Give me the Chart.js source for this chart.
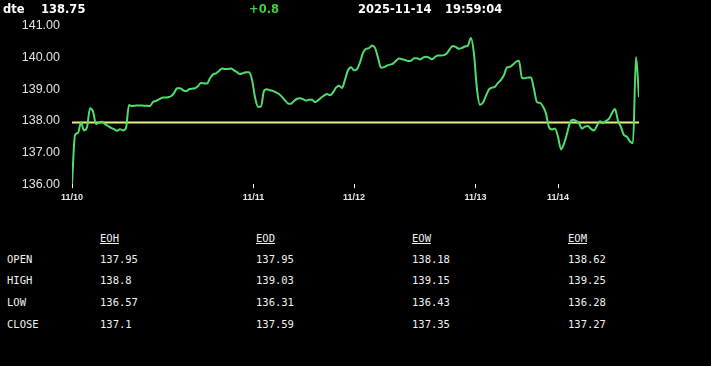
<!DOCTYPE html>
<html><head><meta charset="utf-8">
<script src="https://cdn.jsdelivr.net/npm/chart.js@4/dist/chart.umd.min.js"></script>
<style>
html,body{margin:0;padding:0;background:#000;width:711px;height:366px;overflow:hidden;}
.hdr{position:absolute;top:2px;line-height:14px;font:bold 11.5px 'DejaVu Sans';color:#fff;white-space:pre;}
#wrap{position:absolute;left:0;top:0;width:711px;height:215px;}
.t{position:absolute;line-height:14px;font:10.5px 'DejaVu Sans Mono';color:#f2f2f2;white-space:pre;}
.u{text-decoration:underline;}
</style></head><body>
<div id="wrap"><canvas id="c" width="711" height="215"></canvas></div>
<div id="hdr"></div>
<div id="tbl"></div>
<script>
// ---- header data ----
const symbol = 'dte';
const lastPrice = '138.75';
const change = '+0.8';
const dateText = '2025-11-14';
const timeText = '19:59:04';

// ---- chart data ----
const dayLabels = ['11/10', '11/11', '11/12', '11/13', '11/14'];
const dayStarts = [0, 60.5, 94, 134.5, 162];
const yTicks = [136, 137, 138, 139, 140, 141];
const refLevel = 137.95;
const prices = [
  136.00,137.55,137.62,137.95,137.70,137.80,138.40,138.30,137.90,137.95,
  137.97,137.90,137.84,137.78,137.74,137.69,137.74,137.70,137.78,138.50,
  138.47,138.48,138.49,138.49,138.48,138.48,138.47,138.60,138.63,138.68,
  138.73,138.74,138.75,138.78,138.88,139.03,139.03,138.97,138.94,139.00,
  139.02,139.03,139.10,139.20,139.19,139.18,139.35,139.47,139.50,139.58,
  139.66,139.64,139.64,139.66,139.60,139.54,139.48,139.51,139.54,139.54,
  139.30,138.75,138.45,138.45,138.95,139.00,138.97,138.95,138.90,138.85,
  138.76,138.65,138.55,138.54,138.63,138.70,138.72,138.69,138.64,138.67,
  138.67,138.59,138.65,138.73,138.80,138.85,138.81,138.90,139.05,139.11,
  139.04,139.30,139.60,139.70,139.60,139.64,139.85,140.15,140.28,140.30,
  140.38,140.31,140.00,139.68,139.70,139.75,139.78,139.81,139.90,139.97,
  139.95,139.93,139.89,139.90,139.98,139.98,139.94,140.00,140.03,140.00,
  139.95,140.02,140.07,140.07,140.08,140.14,140.28,140.37,140.33,140.28,
  140.31,140.35,140.39,140.62,140.10,139.00,138.51,138.58,138.80,139.00,
  139.05,139.08,139.20,139.30,139.45,139.69,139.71,139.78,139.87,139.90,
  139.35,139.35,139.37,139.37,139.00,138.59,138.57,138.45,138.23,137.80,
  137.73,137.76,137.50,137.10,137.28,137.60,137.95,138.04,138.00,137.92,
  137.76,137.82,137.84,137.75,137.70,137.85,137.99,137.93,138.00,138.07,
  138.25,138.38,138.00,137.80,137.55,137.50,137.35,137.30,140.02,138.75
];

// ---- table data ----
const tableCols = ['EOH', 'EOD', 'EOW', 'EOM'];
const tableRows = ['OPEN', 'HIGH', 'LOW', 'CLOSE'];
const openVals  = [137.95, 137.95, 138.18, 138.62];
const highVals  = [138.8, 139.03, 139.15, 139.25];
const lowVals   = [136.57, 136.31, 136.43, 136.28];
const closeVals = [137.1, 137.59, 137.35, 137.27];

// header
const hdr = document.getElementById('hdr');
[[symbol, 3, '#fff'], [lastPrice, 41, '#fff'], [change, 249, '#3fcf3f'], [dateText, 358, '#fff'], [timeText, 445, '#fff']]
  .forEach(([txt, x, col]) => {
    const d = document.createElement('div');
    d.className = 'hdr'; d.style.left = x + 'px'; d.style.color = col; d.textContent = txt;
    hdr.appendChild(d);
  });

// table
const tbl = document.getElementById('tbl');
const colX = [100, 256, 412, 568];
const rowY = [253, 274, 296, 318];
function addText(txt, x, y, cls) {
  const d = document.createElement('div');
  d.className = 't' + (cls ? ' ' + cls : '');
  d.style.left = x + 'px'; d.style.top = y + 'px'; d.textContent = txt;
  tbl.appendChild(d);
}
tableCols.forEach((c, i) => addText(c, colX[i], 232, 'u'));
const rowVals = [openVals, highVals, lowVals, closeVals];
tableRows.forEach((r, j) => {
  addText(r, 7, rowY[j]);
  rowVals[j].forEach((v, i) => addText(String(v), colX[i], rowY[j]));
});

// chart
new Chart(document.getElementById('c'), {
  type: 'line',
  data: {
    datasets: [
      {
        data: prices.map((p, i) => ({ x: i, y: p })),
        borderColor: '#4fdd6c', borderWidth: 2, pointRadius: 0,
        cubicInterpolationMode: 'monotone', fill: false
      },
      {
        data: [{ x: 0, y: refLevel }, { x: prices.length - 1, y: refLevel }],
        borderColor: '#e6f07a', borderWidth: 2, pointRadius: 0, fill: false
      }
    ]
  },
  options: {
    responsive: false, animation: false,
    plugins: { legend: { display: false }, tooltip: { enabled: false } },
    layout: { padding: { left: 0, right: 72, top: 26, bottom: 8 } },
    scales: {
      x: {
        type: 'linear', min: 0, max: prices.length - 1,
        afterBuildTicks: a => { a.ticks = dayStarts.map(v => ({ value: v })); },
        ticks: {
          callback: v => dayLabels[dayStarts.indexOf(v)],
          color: '#e6e6e6', font: { family: 'Liberation Sans', size: 9, weight: 'bold' },
          padding: 4, maxRotation: 0, autoSkip: false
        },
        grid: { drawOnChartArea: false, tickLength: 4, tickColor: '#ffffff', color: '#ffffff', lineWidth: 1 },
        border: { display: false }
      },
      y: {
        min: 136, max: 141,
        afterBuildTicks: a => { a.ticks = yTicks.map(v => ({ value: v })); },
        afterFit: s => { s.width = 72; },
        ticks: {
          callback: v => Number(v).toFixed(2),
          color: '#e2e2e2', font: { family: 'Liberation Sans', size: 12.5 }, padding: 12
        },
        grid: { display: false, drawTicks: false },
        border: { display: false }
      }
    }
  }
});
</script>
</body></html>
